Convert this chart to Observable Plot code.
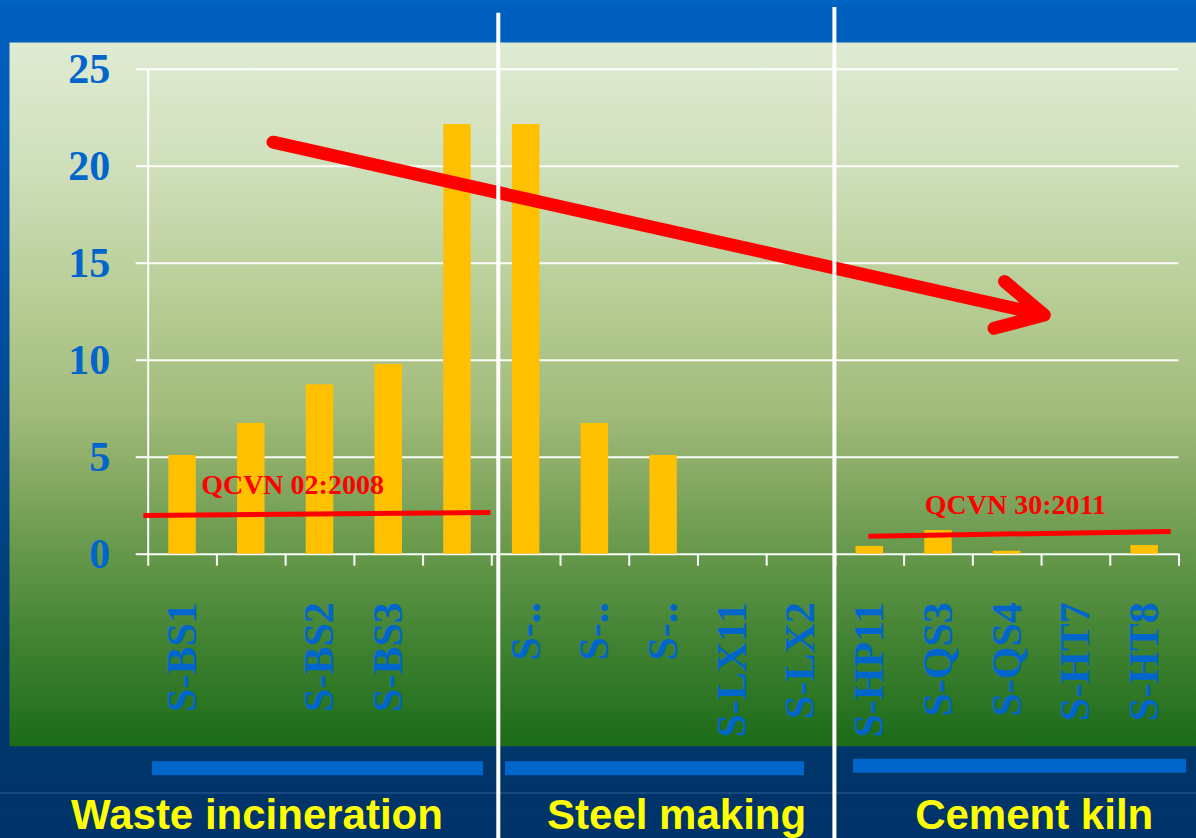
<!DOCTYPE html>
<html>
<head>
<meta charset="utf-8">
<script src="https://cdn.jsdelivr.net/npm/d3@7"></script>
<script src="https://cdn.jsdelivr.net/npm/@observablehq/plot@0.6"></script>
<style>
  html, body { margin: 0; padding: 0; }
  body {
    width: 1196px; height: 838px; overflow: hidden; position: relative;
    background:
      linear-gradient(to bottom, transparent 792px, rgba(40,90,150,0.55) 792px, rgba(40,90,150,0.55) 794px, transparent 794px),
      linear-gradient(to bottom, #0066C8 0px, #0060BF 6px, #005CB8 120px, #004E9E 330px, #00427F 560px, #003669 745px, #00336A 838px);
  }
  #chart { position: absolute; left: 0; top: 0; }
  #chart svg { background: transparent !important; overflow: visible; }
</style>
</head>
<body>
<div id="chart"></div>
<script>
// ---- data ----
const sampleLabels = ["S-BS1", "", "S-BS2", "S-BS3", "", "S-..", "S-..", "S-..", "S-LX11", "S-LX2", "S-HP11", "S-QS3", "S-QS4", "S-HT7", "S-HT8"];
const sampleValues = [5.09, 6.74, 8.73, 9.78, 22.15, 22.15, 6.74, 5.09, 0, 0, 0.40, 1.22, 0.15, 0, 0.45];
const yTicks = [0, 5, 10, 15, 20, 25];
const groupNames = ["Waste incineration", "Steel making", "Cement kiln"];
const groupStart = [0, 5, 10];
const groupEnd = [5, 10, 15];
const standardNames = ["QCVN 02:2008", "QCVN 30:2011"];
const standardX1 = [-0.07, 10.48];
const standardX2 = [4.98, 14.88];
const standardY1 = [2.0, 0.93];
const standardY2 = [2.15, 1.17];
const standardLabelX = [2.10, 12.62];
const standardLabelY = [3.54, 2.56];
const trendFrom = {x: 1.816, y: 21.24};
const trendTo = {x: 13.04, y: 12.33};

// ---- tables ----
const bars = sampleValues.map((v, i) => ({i, v, label: sampleLabels[i]}));
const groups = groupNames.map((name, k) => ({name, start: groupStart[k], end: groupEnd[k], mid: (groupStart[k] + groupEnd[k]) / 2}));
const standards = standardNames.map((name, k) => ({name, x1: standardX1[k], x2: standardX2[k], y1: standardY1[k], y2: standardY2[k], lx: standardLabelX[k], ly: standardLabelY[k]}));
const trend = [{x1: trendFrom.x, y1: trendFrom.y, x2: trendTo.x, y2: trendTo.y}];

// ---- styles ----
const serif = "'Liberation Serif', 'Times New Roman', serif";
const sans = "'Liberation Sans', Arial, sans-serif";
const blueText = "#0066CC";
const groupStyle = [
  {labelDx: -63, ulLeft: 4.3, ulRight: 8.3, ulDy: 214},
  {labelDx: 13, ulLeft: 13.7, ulRight: 30.9, ulDy: 214},
  {labelDx: 27, ulLeft: 18.1, ulRight: -7.5, ulDy: 211.5}
];
const sepStyle = [{dx: 6.5, top: -56}, {dx: -1, top: -61.7}];

const groupMarks = groups.flatMap((g, k) => [
  Plot.ruleY([g], {y: 0, x1: "start", x2: "end", dy: groupStyle[k].ulDy, insetLeft: groupStyle[k].ulLeft, insetRight: groupStyle[k].ulRight, stroke: "#0066CC", strokeWidth: 14}),
  Plot.text([g], {x: "mid", y: 0, dy: 261, dx: groupStyle[k].labelDx, text: "name", fontFamily: sans, fontWeight: "bold", fontSize: 42, fill: "#FFFF00"})
]);
const sepMarks = groups.slice(1).map((g, k) =>
  Plot.ruleX([g.start], {dx: sepStyle[k].dx, insetTop: sepStyle[k].top, insetBottom: -284.3, stroke: "white", strokeWidth: 4})
);

const chart = Plot.plot({
  width: 1196,
  height: 838,
  marginLeft: 147.7,
  marginRight: 17.5,
  marginTop: 68.7,
  marginBottom: 284.3,
  style: {fontFamily: serif, background: "transparent"},
  x: {type: "linear", domain: [0, 15], axis: null},
  y: {domain: [0, 25], axis: null},
  marks: [
    Plot.frame({fill: "url(#panelGrad)", stroke: null, insetLeft: -138.7, insetRight: -17.5, insetTop: -26.7, insetBottom: -192}),
    Plot.ruleY(yTicks, {stroke: "white", strokeWidth: 2, strokeOpacity: 0.95}),
    Plot.rectY(bars, {x: "i", y: "v", interval: 1, insetLeft: 20.6, insetRight: 20.6, fill: "#FFC000"}),
    Plot.ruleX([0], {y1: 0, y2: 25, stroke: "white", strokeWidth: 2}),
    Plot.axisX(d3.range(16), {tickSize: 12, tickFormat: () => "", stroke: "white", strokeWidth: 2}),
    Plot.axisY(yTicks, {tickSize: 12, tickPadding: 26, fontSize: 42, fontWeight: "bold", fill: blueText, stroke: "white", strokeWidth: 2}),
    Plot.text(bars, {x: d => d.i + 0.5, y: 0, text: "label", rotate: -90, textAnchor: "end", dy: 48, fontSize: 42, fontWeight: "bold", fill: blueText}),
    Plot.link(standards, {x1: "x1", y1: "y1", x2: "x2", y2: "y2", stroke: "#FF0000", strokeWidth: 5}),
    Plot.text(standards, {x: "lx", y: "ly", text: "name", fontSize: 28, fontWeight: "bold", fill: "#FF0000"}),
    Plot.arrow(trend, {x1: "x1", y1: "y1", x2: "x2", y2: "y2", stroke: "#FF0000", strokeWidth: 13, headAngle: 55, headLength: 6}),
    ...groupMarks,
    ...sepMarks
  ]
});

const svg = d3.select(chart);
const defs = svg.insert("defs", ":first-child");
const grad = defs.append("linearGradient").attr("id", "panelGrad").attr("x1", 0).attr("y1", 0).attr("x2", 0).attr("y2", 1);
[[0, "#DFEBD3"], [0.18, "#CFDFBA"], [0.38, "#B5CB92"], [0.52, "#A2BC7C"], [0.62, "#86A963"], [0.73, "#64974A"], [0.86, "#3F8131"], [1, "#1B6B18"]]
  .forEach(([o, c]) => grad.append("stop").attr("offset", o).attr("stop-color", c));

document.getElementById("chart").appendChild(chart);
</script>
</body>
</html>
